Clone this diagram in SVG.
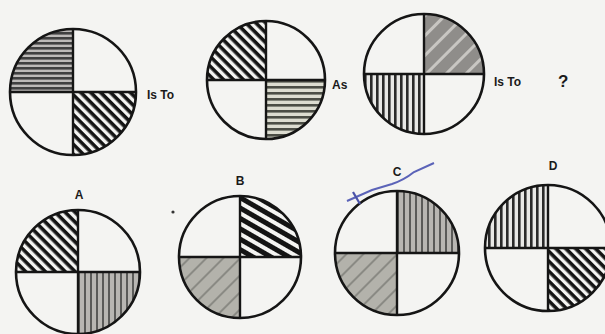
<svg xmlns="http://www.w3.org/2000/svg" width="605" height="334" viewBox="0 0 605 334">
<style>
.ring{fill:none;stroke:#151515;stroke-width:2.6}
.axis{stroke:#151515;stroke-width:2.4}
.lbl{font-family:"Liberation Sans",Arial,sans-serif;font-weight:bold;fill:#1a1a1a}
</style>
<defs>
<pattern id="diagB" patternUnits="userSpaceOnUse" width="7" height="7" patternTransform="rotate(45)">
<rect width="7" height="7" fill="#f4f4f2"/>
<rect y="0" width="7" height="3.6" fill="#141414"/>
</pattern>
<pattern id="diagBHeavy" patternUnits="userSpaceOnUse" width="9" height="9" patternTransform="rotate(30)">
<rect width="9" height="9" fill="#f4f4f2"/>
<rect y="0" width="9" height="5" fill="#141414"/>
</pattern>
<pattern id="horiz" patternUnits="userSpaceOnUse" width="6" height="5">
<rect width="6" height="5" fill="#bdbab8"/>
<rect y="0" width="6" height="2.6" fill="#404040"/>
</pattern>
<pattern id="horizG" patternUnits="userSpaceOnUse" width="6" height="6">
<rect width="6" height="6" fill="#dcdcd0"/>
<rect y="0" width="6" height="2.6" fill="#4b4d45"/>
</pattern>
<pattern id="vert" patternUnits="userSpaceOnUse" width="6" height="6">
<rect width="6" height="6" fill="#e8e8e6"/>
<rect x="0" width="2.6" height="6" fill="#2a2a2a"/>
</pattern>
<pattern id="vertG" patternUnits="userSpaceOnUse" width="6" height="6">
<rect width="6" height="6" fill="#b8b6b2"/>
<rect x="0" width="2" height="6" fill="#5a5a58"/>
</pattern>
<pattern id="diagF" patternUnits="userSpaceOnUse" width="14" height="14" patternTransform="rotate(-45)">
<rect width="14" height="14" fill="#8f8d8a"/>
<rect y="0" width="14" height="3" fill="#c8c6c2"/>
</pattern>
<pattern id="diagFL" patternUnits="userSpaceOnUse" width="12" height="12" patternTransform="rotate(-45)">
<rect width="12" height="12" fill="#b3b2ab"/>
<rect y="0" width="12" height="2" fill="#8a8a84"/>
</pattern>
</defs>
<rect width="605" height="334" fill="#f4f4f2"/>

<g id="fig1" transform="translate(73,92)">
<path d="M0 0 L-63 0 A63 63 0 0 1 0 -63 Z" fill="url(#horiz)"/>
<path d="M0 0 L63 0 A63 63 0 0 1 0 63 Z" fill="url(#diagB)"/>
<circle r="63" class="ring"/>
<line x1="-63" y1="0" x2="63" y2="0" class="axis"/>
<line x1="0" y1="-63" x2="0" y2="63" class="axis"/>
</g>
<text class="lbl" x="147" y="99" font-size="12">Is To</text>

<g id="fig2" transform="translate(266,80)">
<path d="M0 0 L-59 0 A59 59 0 0 1 0 -59 Z" fill="url(#diagB)"/>
<path d="M0 0 L59 0 A59 59 0 0 1 0 59 Z" fill="url(#horizG)"/>
<circle r="59" class="ring"/>
<line x1="-59" y1="0" x2="59" y2="0" class="axis"/>
<line x1="0" y1="-59" x2="0" y2="59" class="axis"/>
</g>
<text class="lbl" x="332" y="89" font-size="12">As</text>

<g id="fig3" transform="translate(424,74)">
<path d="M0 0 L0 -60 A60 60 0 0 1 60 0 Z" fill="url(#diagF)"/>
<path d="M0 0 L0 60 A60 60 0 0 1 -60 0 Z" fill="url(#vert)"/>
<circle r="60" class="ring"/>
<line x1="-60" y1="0" x2="60" y2="0" class="axis"/>
<line x1="0" y1="-60" x2="0" y2="60" class="axis"/>
</g>
<text class="lbl" x="494" y="86" font-size="12">Is To</text>
<text class="lbl" x="558" y="87" font-size="17">?</text>

<g id="optA">
<text class="lbl" x="79" y="199" font-size="12" text-anchor="middle">A</text>
<g transform="translate(78,272)">
<path d="M0 0 L-62 0 A62 62 0 0 1 0 -62 Z" fill="url(#diagB)"/>
<path d="M0 0 L62 0 A62 62 0 0 1 0 62 Z" fill="url(#vertG)"/>
<circle r="62" class="ring"/>
<line x1="-62" y1="0" x2="62" y2="0" class="axis"/>
<line x1="0" y1="-62" x2="0" y2="62" class="axis"/>
</g>
</g>

<g id="optB">
<text class="lbl" x="240" y="185" font-size="12" text-anchor="middle">B</text>
<circle cx="173" cy="212" r="1.6" fill="#333"/>
<g transform="translate(240,257)">
<path d="M0 0 L0 -61 A61 61 0 0 1 61 0 Z" fill="url(#diagBHeavy)"/>
<path d="M0 0 L0 61 A61 61 0 0 1 -61 0 Z" fill="url(#diagFL)"/>
<circle r="61" class="ring"/>
<line x1="-61" y1="0" x2="61" y2="0" class="axis"/>
<line x1="0" y1="-61" x2="0" y2="61" class="axis"/>
</g>
</g>

<g id="optC">
<text class="lbl" x="397" y="176" font-size="12" text-anchor="middle">C</text>
<g transform="translate(397,253)">
<path d="M0 0 L0 -62 A62 62 0 0 1 62 0 Z" fill="url(#vertG)"/>
<path d="M0 0 L0 62 A62 62 0 0 1 -62 0 Z" fill="url(#diagFL)"/>
<circle r="62" class="ring"/>
<line x1="-62" y1="0" x2="62" y2="0" class="axis"/>
<line x1="0" y1="-62" x2="0" y2="62" class="axis"/>
</g>
<path d="M347 201 L372 190 L392 184 Q404 180 414 172 L434 163" fill="none" stroke="#5b63b8" stroke-width="2"/>
<path d="M353 192 L360 204" fill="none" stroke="#4a52a8" stroke-width="2.2"/>
</g>

<g id="optD">
<text class="lbl" x="553" y="170" font-size="12" text-anchor="middle">D</text>
<g transform="translate(548,248)">
<path d="M0 0 L-63 0 A63 63 0 0 1 0 -63 Z" fill="url(#vert)"/>
<path d="M0 0 L63 0 A63 63 0 0 1 0 63 Z" fill="url(#diagB)"/>
<circle r="63" class="ring"/>
<line x1="-63" y1="0" x2="63" y2="0" class="axis"/>
<line x1="0" y1="-63" x2="0" y2="63" class="axis"/>
</g>
</g>
</svg>
